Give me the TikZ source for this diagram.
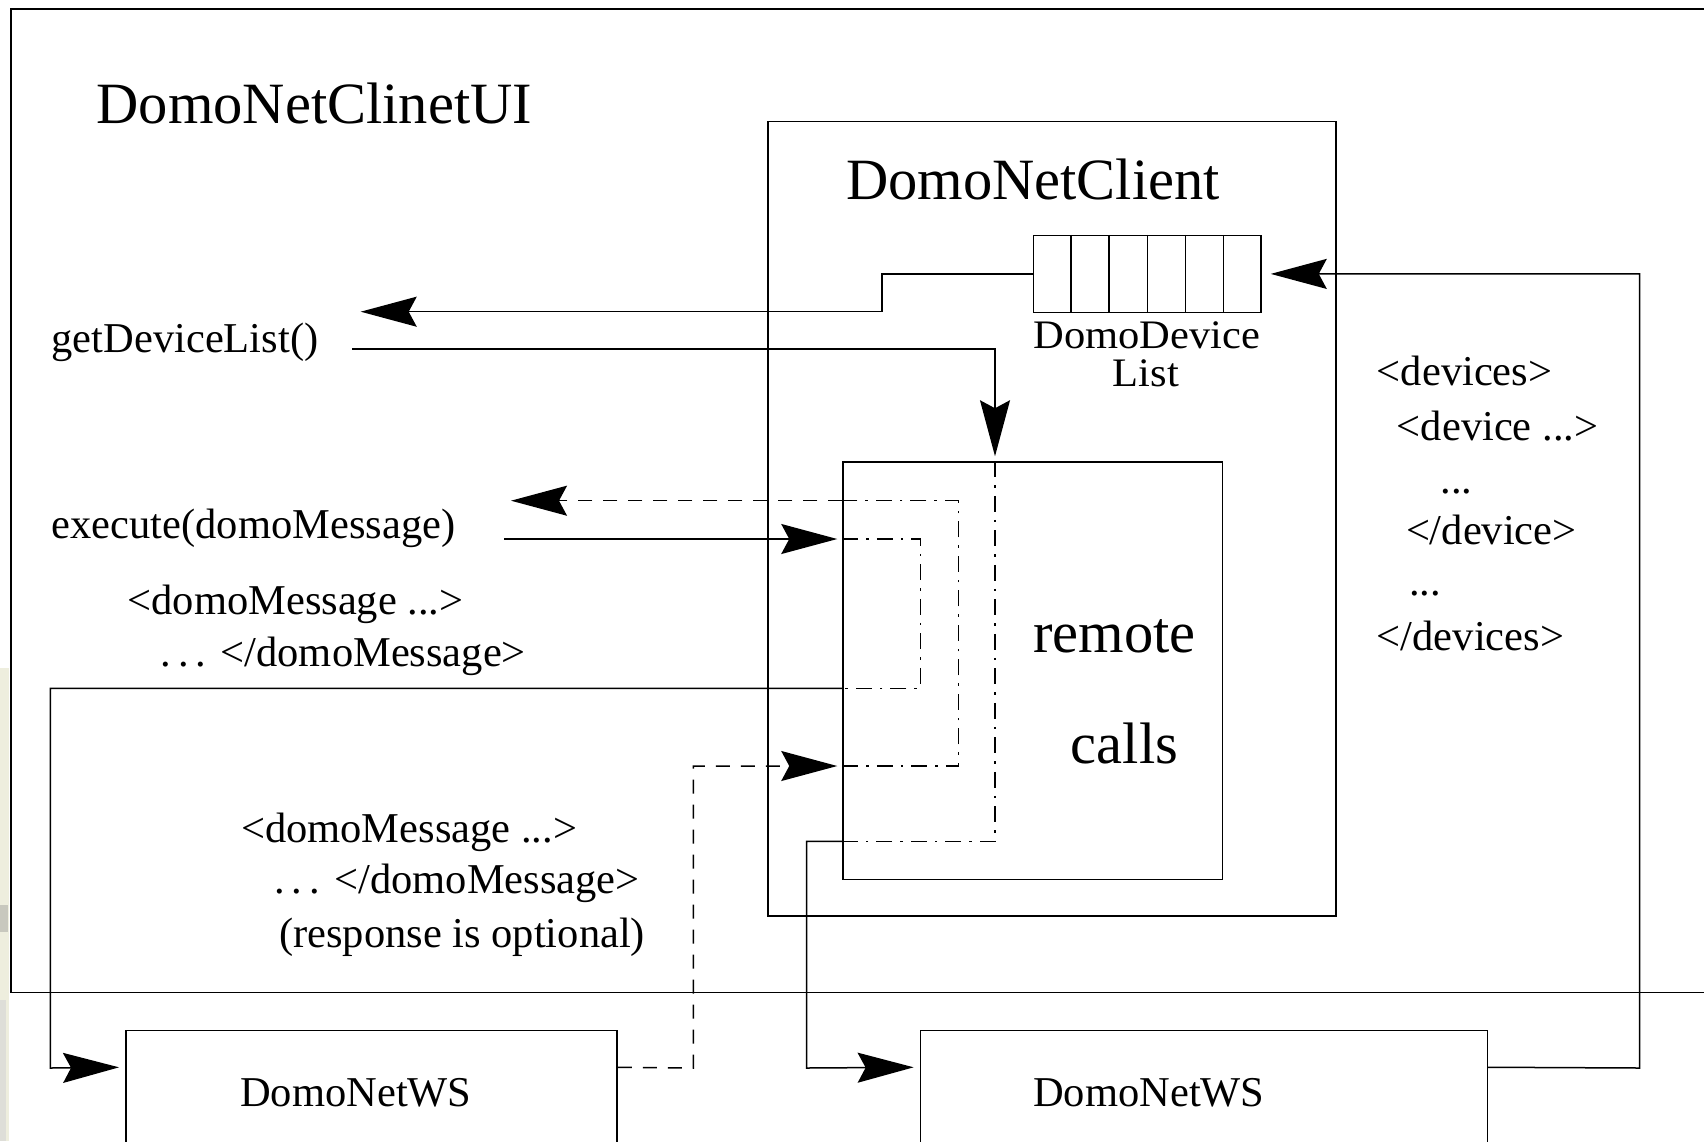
\documentclass[tikz,border=0pt]{standalone}
\usepackage{fontspec}
\setmainfont{Liberation Serif}
\newfontfamily\widefont[FakeStretch=1.05]{Liberation Serif}
\usetikzlibrary{arrows.meta,calc}
\definecolor{marginbeige}{RGB}{238,238,222}
\definecolor{margingrey}{RGB}{200,200,190}
\newcommand{\spdots}{.\kern0.17em.\kern0.17em.}
\begin{document}
\begin{tikzpicture}[x=1pt,y=-1pt,
  wire/.style={line width=1.5pt},
  tip/.style={-{Stealth[length=56pt,width=30pt,inset=8pt]}, shorten >=5pt},
  dashline/.style={wire, dash pattern=on 14pt off 11pt},
  dotdash/.style={wire, dash pattern=on 16pt off 8pt on 2.5pt off 8pt},
  box/.style={draw, line width=1.5pt, inner sep=0pt, rectangle},
  big/.style={inner sep=0pt, font=\fontsize{58.5}{60}\selectfont},
  lab/.style={inner sep=0pt, font=\fontsize{42.5}{44}\selectfont},
  qlab/.style={inner sep=0pt, font=\widefont\fontsize{40.5}{42}\selectfont},
]
\useasboundingbox (0,0) rectangle (1704,1141);
\fill[white] (0,0) rectangle (1704,1141);

% left margin strip
\fill[marginbeige] (0,668) rectangle (9,1141);
\fill[margingrey] (0,905) rectangle (8,932);
\fill[margingrey!60] (0,1000) rectangle (6,1141);

% outer frame of the UI (open on the right)
\draw[wire] (1710,9) -- (11,9) -- (11,992.5) -- (1710,992.5);

% boxes
\node[box, minimum width=568pt, minimum height=794.3pt] (client) at (1052,518.85) {};
\node[box, minimum width=379.5pt, minimum height=417.5pt] (rc) at (1032.75,670.75) {};
\node[box, minimum width=227.5pt, minimum height=76.8pt] (queue) at (1147.25,273.9) {};
\foreach \i in {1,...,5}
  \draw[wire] ($(queue.north west)!\i/6!(queue.north east)$) -- ($(queue.south west)!\i/6!(queue.south east)$);
\node[box, minimum width=491.2pt, minimum height=170pt] (ws1) at (371.4,1115.7) {};
\node[box, minimum width=567pt, minimum height=170pt] (ws2) at (1203.9,1115.7) {};

% titles
\node[big, anchor=base west] (uiname) at (96.5,123) {DomoNetClinetUI};
\node[big, anchor=base west] (clname) at (846,199) {DomoNetClient};
\node[big, anchor=base west] (rem) at (1033,652) {remote};
\node[big, anchor=base west] (calls) at (1070.6,763.5) {calls};

% labels
\node[lab, anchor=base west] (gdl) at (51.5,352.5) {getDeviceList()};
\node[lab, anchor=base west] (exe) at (51.5,538.5) {execute(domoMessage)};
\node[lab, anchor=base west] (m1a) at (127.4,614) {<domoMessage ...>};
\node[lab, anchor=base west] (m1b) at (160,666.5) {\spdots{} </domoMessage>};
\node[lab, anchor=base west] (m2a) at (241,842) {<domoMessage ...>};
\node[lab, anchor=base west] (m2b) at (273.8,893) {\spdots{} </domoMessage>};
\node[lab, anchor=base west] (m2c) at (279,947) {(response is optional)};

\node[lab, anchor=base west] (d1) at (1376.7,385.5) {<devices>};
\node[lab, anchor=base west] (d2) at (1396.7,440) {<device ...>};
\node[lab, anchor=base west] (d3) at (1440.5,493) {...};
\node[lab, anchor=base west] (d4) at (1405.8,544) {</device>};
\node[lab, anchor=base west] (d5) at (1409,595) {...};
\node[lab, anchor=base west] (d6) at (1376.7,650) {</devices>};

\node[qlab, anchor=base, text depth=0pt] (qname) at (1147,348.3) {DomoDevice};
\node[qlab, anchor=base, text height=26pt] (qname2) at (1146,386) {List};

\node[lab, anchor=base west] (ws1name) at (240,1106) {DomoNetWS};
\node[lab, anchor=base west] (ws2name) at (1033,1106) {DomoNetWS};

% connector points
\coordinate (listend) at (360.7,311.7);
\coordinate (gdlstart) at (352.4,349);
\coordinate (dcol) at (995,0);
\coordinate (reqin) at (dcol |- rc.north);
\coordinate (reqturn) at (995,841.3);
\coordinate (reqout) at (rc.west |- reqturn);
\coordinate (exestart) at (504,539);
\coordinate (exein) at (rc.west |- exestart);
\coordinate (exeout) at (rc.west |- 0,688.4);
\coordinate (respin) at (rc.west |- 0,766);
\coordinate (respout) at (rc.west |- 0,500.7);
\coordinate (respend) at (511,500.7);
\coordinate (ws1in) at ([yshift=-37.3pt]ws1.north west);
\coordinate (ws1out) at ([yshift=-37.3pt]ws1.north east);
\coordinate (ws2in) at ([yshift=-37.3pt]ws2.north west);
\coordinate (ws2out) at ([yshift=-37.3pt]ws2.north east);

% device list returned to the UI
\draw[wire, tip, shorten >=0pt] (queue.west) -- (882,273.9) -- (882,311.7) -- (listend);
% getDeviceList() call
\draw[wire, tip] (gdlstart) -- (995,349) -- (reqin);
\draw[dotdash] (reqin) -- (reqturn) -- (reqout);
\draw[wire, tip, shorten >=6pt] (reqout) -- (806.6,841.3) -- (806.6,1068) -- (ws2in);
% execute(domoMessage) call
\draw[wire, tip] (exestart) -- (exein);
\draw[dotdash] (exein) -- (920.4,539) -- (920.4,688.4) -- (exeout);
\draw[wire, tip, shorten >=6pt] (exeout) -- (50.4,688.4) -- (50.4,1068) -- (ws1in);
% optional response
\draw[dashline, tip] (ws1out) -- (693.3,1068) -- (693.3,766) -- (respin);
\draw[dotdash] (respin) -- (958.7,766) -- (958.7,500.7) -- (respout);
\draw[dashline, tip, shorten >=0pt] (respout) -- (respend);
% device list pushed into the queue
\draw[wire, tip, shorten >=9pt] (ws2out) -- (1639.5,1068) -- (1639.5,273.9) -- (queue.east);
\end{tikzpicture}
\end{document}
